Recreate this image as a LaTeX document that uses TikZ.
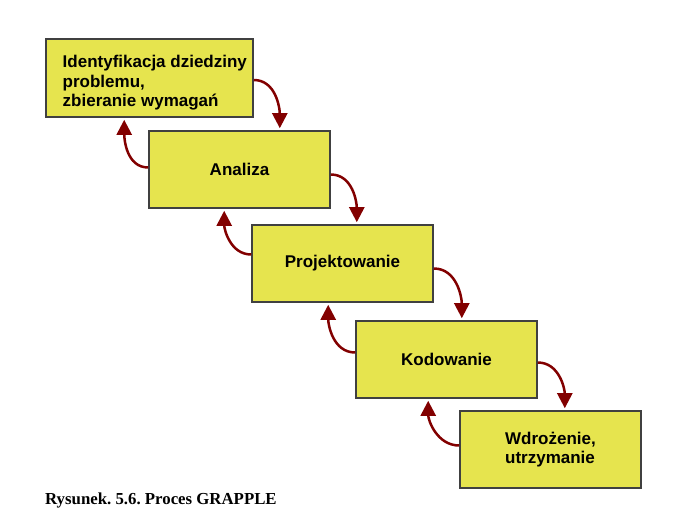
\documentclass[tikz,border=0pt]{standalone}
\usepackage{fontspec}
\setmainfont{Liberation Serif}
\setsansfont{Liberation Sans}
\usepackage{xcolor}
\usetikzlibrary{arrows.meta,positioning,calc}
\definecolor{boxfill}{RGB}{230,228,78}
\definecolor{boxline}{RGB}{64,64,64}
\definecolor{flowred}{RGB}{130,0,0}
\tikzstyle{box} = [draw=boxline, line width=1.6pt, fill=boxfill, minimum width=181pt, minimum height=77pt,
  font=\sffamily\bfseries\fontsize{17}{19.5}\selectfont, align=left]
\tikzstyle{arrow} = [line width=2.5pt, draw=flowred, -{Triangle[width=15pt,length=15pt]}, shorten >=2pt]

\begin{document}
\frenchspacing
\begin{tikzpicture}[x=1pt, y=-1pt]
  \useasboundingbox (0,0) rectangle (679,517);
  \node[box, minimum width=207pt, minimum height=78pt] (ident) at (149.5,78) {};
  \node[anchor=west, inner sep=0pt, align=left, font=\sffamily\bfseries\fontsize{17}{19.5}\selectfont] (identtext) at (62.5,83)
    {Identyfikacja dziedziny\\problemu,\\zbieranie wymagań};
  \node[box] (analiza) at (239.5,169.5) {Analiza};
  \node[box] (projekt) at (342.5,263.5) {Projektowanie};
  \node[box] (kod) at (446.5,359.5) {Kodowanie};
  \node[box] (wdroz) at (550.5,449.5) {Wdrożenie,\\utrzymanie};

  % turning points of the arrows
  \coordinate (f1) at ($(ident.east)+(26,0)$);
  \coordinate (f2) at ($(analiza.east)+(26,0)$);
  \coordinate (f3) at ($(projekt.east)+(28,0)$);
  \coordinate (f4) at ($(kod.east)+(27,0)$);
  \coordinate (b1) at ($(analiza.west)+(-24,0)$);
  \coordinate (b2) at ($(projekt.west)+(-27,0)$);
  \coordinate (b3) at ($(kod.west)+(-27,0)$);
  \coordinate (b4) at ($(wdroz.west)+(-31,0)$);

  % forward
  \draw[arrow] ([yshift=-2pt]ident.east) to[out=0,in=90] (f1 |- analiza.north);
  \draw[arrow] ([yshift=-5pt]analiza.east) to[out=0,in=90] (f2 |- projekt.north);
  \draw[arrow] ([yshift=-5pt]projekt.east) to[out=0,in=90] (f3 |- kod.north);
  \draw[arrow] ([yshift=-3pt]kod.east) to[out=0,in=90] (f4 |- wdroz.north);
  % back
  \draw[arrow] ([yshift=2pt]analiza.west) to[out=180,in=-90] (b1 |- ident.south);
  \draw[arrow] ([yshift=9pt]projekt.west) to[out=180,in=-90] (b2 |- analiza.south);
  \draw[arrow] ([yshift=7pt]kod.west) to[out=180,in=-90] (b3 |- projekt.south);
  \draw[arrow] ([yshift=4pt]wdroz.west) to[out=180,in=-90] (b4 |- kod.south);

  \node[anchor=base west, inner sep=0pt, font=\bfseries\fontsize{16.8}{19}\selectfont] (caption) at (45,504)
    {Rysunek. 5.6. Proces GRAPPLE};
\end{tikzpicture}
\end{document}
